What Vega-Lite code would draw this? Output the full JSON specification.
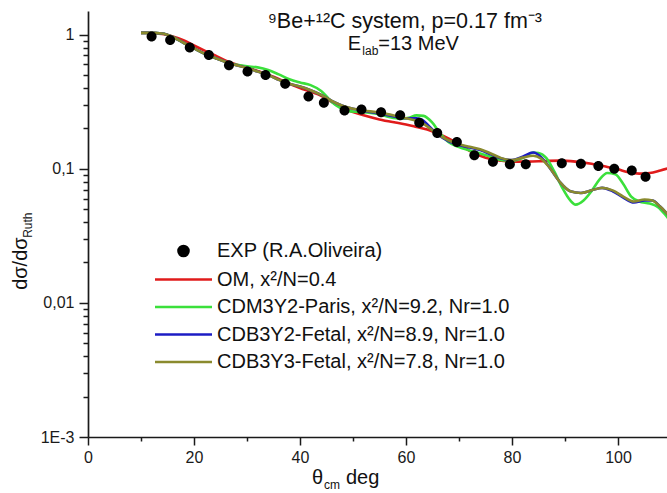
{
  "$schema": "https://vega.github.io/schema/vega-lite/v6.json",
  "width": 579,
  "height": 426,
  "autosize": "none",
  "padding": {"left": 88, "top": 11, "right": 0, "bottom": 56},
  "config": {
    "font": "Liberation Sans",
    "view": {"stroke": null},
    "text": {"font": "Liberation Sans", "color": "#111"}
  },
  "datasets": {
    "exp": [
      {"series": "EXP", "theta": 12.0, "ratio": 0.97},
      {"series": "EXP", "theta": 15.5, "ratio": 0.91},
      {"series": "EXP", "theta": 19.2, "ratio": 0.80},
      {"series": "EXP", "theta": 22.8, "ratio": 0.705},
      {"series": "EXP", "theta": 26.6, "ratio": 0.59},
      {"series": "EXP", "theta": 30.1, "ratio": 0.53},
      {"series": "EXP", "theta": 33.5, "ratio": 0.50},
      {"series": "EXP", "theta": 37.2, "ratio": 0.43},
      {"series": "EXP", "theta": 41.6, "ratio": 0.345},
      {"series": "EXP", "theta": 44.5, "ratio": 0.31},
      {"series": "EXP", "theta": 48.4, "ratio": 0.272},
      {"series": "EXP", "theta": 51.6, "ratio": 0.277},
      {"series": "EXP", "theta": 55.3, "ratio": 0.264},
      {"series": "EXP", "theta": 58.9, "ratio": 0.251},
      {"series": "EXP", "theta": 62.5, "ratio": 0.22},
      {"series": "EXP", "theta": 65.9, "ratio": 0.185},
      {"series": "EXP", "theta": 69.6, "ratio": 0.158},
      {"series": "EXP", "theta": 72.9, "ratio": 0.126},
      {"series": "EXP", "theta": 76.4, "ratio": 0.113},
      {"series": "EXP", "theta": 79.6, "ratio": 0.108},
      {"series": "EXP", "theta": 82.6, "ratio": 0.108},
      {"series": "EXP", "theta": 89.4, "ratio": 0.110},
      {"series": "EXP", "theta": 93.0, "ratio": 0.109},
      {"series": "EXP", "theta": 96.3, "ratio": 0.105},
      {"series": "EXP", "theta": 99.3, "ratio": 0.100},
      {"series": "EXP", "theta": 102.6, "ratio": 0.097},
      {"series": "EXP", "theta": 105.2, "ratio": 0.087}
    ],
    "curves": [
      {"series": "OM", "theta": 10, "ratio": 1.03},
      {"series": "OM", "theta": 12, "ratio": 1.03},
      {"series": "OM", "theta": 14, "ratio": 1.01},
      {"series": "OM", "theta": 16, "ratio": 0.97},
      {"series": "OM", "theta": 18, "ratio": 0.91},
      {"series": "OM", "theta": 20, "ratio": 0.83},
      {"series": "OM", "theta": 22, "ratio": 0.76},
      {"series": "OM", "theta": 24, "ratio": 0.70},
      {"series": "OM", "theta": 26, "ratio": 0.64},
      {"series": "OM", "theta": 28, "ratio": 0.60},
      {"series": "OM", "theta": 30, "ratio": 0.57},
      {"series": "OM", "theta": 32, "ratio": 0.535},
      {"series": "OM", "theta": 35, "ratio": 0.485},
      {"series": "OM", "theta": 38, "ratio": 0.43},
      {"series": "OM", "theta": 40, "ratio": 0.40},
      {"series": "OM", "theta": 42, "ratio": 0.375},
      {"series": "OM", "theta": 44, "ratio": 0.35},
      {"series": "OM", "theta": 46, "ratio": 0.315},
      {"series": "OM", "theta": 48, "ratio": 0.285},
      {"series": "OM", "theta": 50, "ratio": 0.265},
      {"series": "OM", "theta": 52, "ratio": 0.25},
      {"series": "OM", "theta": 55, "ratio": 0.233},
      {"series": "OM", "theta": 58, "ratio": 0.221},
      {"series": "OM", "theta": 60, "ratio": 0.214},
      {"series": "OM", "theta": 62, "ratio": 0.205},
      {"series": "OM", "theta": 64, "ratio": 0.196},
      {"series": "OM", "theta": 66, "ratio": 0.183},
      {"series": "OM", "theta": 68, "ratio": 0.168},
      {"series": "OM", "theta": 70, "ratio": 0.152},
      {"series": "OM", "theta": 72, "ratio": 0.136},
      {"series": "OM", "theta": 74, "ratio": 0.125},
      {"series": "OM", "theta": 76, "ratio": 0.118},
      {"series": "OM", "theta": 78, "ratio": 0.115},
      {"series": "OM", "theta": 80, "ratio": 0.113},
      {"series": "OM", "theta": 83, "ratio": 0.113},
      {"series": "OM", "theta": 86, "ratio": 0.114},
      {"series": "OM", "theta": 89, "ratio": 0.115},
      {"series": "OM", "theta": 92, "ratio": 0.113},
      {"series": "OM", "theta": 95, "ratio": 0.109},
      {"series": "OM", "theta": 98, "ratio": 0.103},
      {"series": "OM", "theta": 100, "ratio": 0.099},
      {"series": "OM", "theta": 102, "ratio": 0.094},
      {"series": "OM", "theta": 104, "ratio": 0.092},
      {"series": "OM", "theta": 106, "ratio": 0.093},
      {"series": "OM", "theta": 108, "ratio": 0.097},
      {"series": "OM", "theta": 110, "ratio": 0.102},

      {"series": "CDM3Y2", "theta": 10, "ratio": 1.03},
      {"series": "CDM3Y2", "theta": 12, "ratio": 1.03},
      {"series": "CDM3Y2", "theta": 14, "ratio": 1.02},
      {"series": "CDM3Y2", "theta": 16, "ratio": 0.96},
      {"series": "CDM3Y2", "theta": 18, "ratio": 0.87},
      {"series": "CDM3Y2", "theta": 20, "ratio": 0.79},
      {"series": "CDM3Y2", "theta": 22, "ratio": 0.72},
      {"series": "CDM3Y2", "theta": 24, "ratio": 0.67},
      {"series": "CDM3Y2", "theta": 26, "ratio": 0.625},
      {"series": "CDM3Y2", "theta": 28, "ratio": 0.595},
      {"series": "CDM3Y2", "theta": 30, "ratio": 0.58},
      {"series": "CDM3Y2", "theta": 32, "ratio": 0.57},
      {"series": "CDM3Y2", "theta": 34, "ratio": 0.545},
      {"series": "CDM3Y2", "theta": 36, "ratio": 0.505},
      {"series": "CDM3Y2", "theta": 38, "ratio": 0.465},
      {"series": "CDM3Y2", "theta": 40, "ratio": 0.44},
      {"series": "CDM3Y2", "theta": 42, "ratio": 0.42},
      {"series": "CDM3Y2", "theta": 44, "ratio": 0.38},
      {"series": "CDM3Y2", "theta": 46, "ratio": 0.315},
      {"series": "CDM3Y2", "theta": 47.5, "ratio": 0.285},
      {"series": "CDM3Y2", "theta": 49, "ratio": 0.27},
      {"series": "CDM3Y2", "theta": 51, "ratio": 0.265},
      {"series": "CDM3Y2", "theta": 53, "ratio": 0.262},
      {"series": "CDM3Y2", "theta": 55, "ratio": 0.255},
      {"series": "CDM3Y2", "theta": 57, "ratio": 0.242},
      {"series": "CDM3Y2", "theta": 59, "ratio": 0.236},
      {"series": "CDM3Y2", "theta": 60.5, "ratio": 0.24},
      {"series": "CDM3Y2", "theta": 62, "ratio": 0.25},
      {"series": "CDM3Y2", "theta": 63.3, "ratio": 0.248},
      {"series": "CDM3Y2", "theta": 65, "ratio": 0.22},
      {"series": "CDM3Y2", "theta": 66.7, "ratio": 0.178},
      {"series": "CDM3Y2", "theta": 68, "ratio": 0.158},
      {"series": "CDM3Y2", "theta": 70, "ratio": 0.145},
      {"series": "CDM3Y2", "theta": 72, "ratio": 0.137},
      {"series": "CDM3Y2", "theta": 74, "ratio": 0.13},
      {"series": "CDM3Y2", "theta": 76, "ratio": 0.123},
      {"series": "CDM3Y2", "theta": 78, "ratio": 0.116},
      {"series": "CDM3Y2", "theta": 80, "ratio": 0.115},
      {"series": "CDM3Y2", "theta": 82, "ratio": 0.12},
      {"series": "CDM3Y2", "theta": 84, "ratio": 0.132},
      {"series": "CDM3Y2", "theta": 85, "ratio": 0.131},
      {"series": "CDM3Y2", "theta": 86.5, "ratio": 0.12},
      {"series": "CDM3Y2", "theta": 88, "ratio": 0.095},
      {"series": "CDM3Y2", "theta": 89.5, "ratio": 0.072},
      {"series": "CDM3Y2", "theta": 91, "ratio": 0.058},
      {"series": "CDM3Y2", "theta": 92, "ratio": 0.054},
      {"series": "CDM3Y2", "theta": 93.5, "ratio": 0.058},
      {"series": "CDM3Y2", "theta": 95, "ratio": 0.068},
      {"series": "CDM3Y2", "theta": 96.5, "ratio": 0.083},
      {"series": "CDM3Y2", "theta": 98, "ratio": 0.093},
      {"series": "CDM3Y2", "theta": 99.5, "ratio": 0.091},
      {"series": "CDM3Y2", "theta": 101, "ratio": 0.077},
      {"series": "CDM3Y2", "theta": 102.5, "ratio": 0.062},
      {"series": "CDM3Y2", "theta": 104, "ratio": 0.057},
      {"series": "CDM3Y2", "theta": 106, "ratio": 0.055},
      {"series": "CDM3Y2", "theta": 107.5, "ratio": 0.052},
      {"series": "CDM3Y2", "theta": 109, "ratio": 0.045},
      {"series": "CDM3Y2", "theta": 110, "ratio": 0.04},

      {"series": "CDB3Y2", "theta": 10, "ratio": 1.03},
      {"series": "CDB3Y2", "theta": 12, "ratio": 1.03},
      {"series": "CDB3Y2", "theta": 14, "ratio": 1.02},
      {"series": "CDB3Y2", "theta": 16, "ratio": 0.96},
      {"series": "CDB3Y2", "theta": 18, "ratio": 0.87},
      {"series": "CDB3Y2", "theta": 20, "ratio": 0.79},
      {"series": "CDB3Y2", "theta": 22, "ratio": 0.72},
      {"series": "CDB3Y2", "theta": 24, "ratio": 0.67},
      {"series": "CDB3Y2", "theta": 26, "ratio": 0.625},
      {"series": "CDB3Y2", "theta": 28, "ratio": 0.59},
      {"series": "CDB3Y2", "theta": 30, "ratio": 0.565},
      {"series": "CDB3Y2", "theta": 32, "ratio": 0.53},
      {"series": "CDB3Y2", "theta": 34, "ratio": 0.50},
      {"series": "CDB3Y2", "theta": 36, "ratio": 0.46},
      {"series": "CDB3Y2", "theta": 38, "ratio": 0.43},
      {"series": "CDB3Y2", "theta": 40, "ratio": 0.41},
      {"series": "CDB3Y2", "theta": 42, "ratio": 0.385},
      {"series": "CDB3Y2", "theta": 44, "ratio": 0.355},
      {"series": "CDB3Y2", "theta": 46, "ratio": 0.32},
      {"series": "CDB3Y2", "theta": 48, "ratio": 0.295},
      {"series": "CDB3Y2", "theta": 50, "ratio": 0.28},
      {"series": "CDB3Y2", "theta": 52, "ratio": 0.27},
      {"series": "CDB3Y2", "theta": 55, "ratio": 0.258},
      {"series": "CDB3Y2", "theta": 58, "ratio": 0.244},
      {"series": "CDB3Y2", "theta": 60, "ratio": 0.238},
      {"series": "CDB3Y2", "theta": 62, "ratio": 0.238},
      {"series": "CDB3Y2", "theta": 63, "ratio": 0.232},
      {"series": "CDB3Y2", "theta": 64.5, "ratio": 0.205},
      {"series": "CDB3Y2", "theta": 66, "ratio": 0.18},
      {"series": "CDB3Y2", "theta": 68, "ratio": 0.161},
      {"series": "CDB3Y2", "theta": 70, "ratio": 0.15},
      {"series": "CDB3Y2", "theta": 72, "ratio": 0.144},
      {"series": "CDB3Y2", "theta": 74, "ratio": 0.138},
      {"series": "CDB3Y2", "theta": 76, "ratio": 0.128},
      {"series": "CDB3Y2", "theta": 78, "ratio": 0.119},
      {"series": "CDB3Y2", "theta": 80, "ratio": 0.116},
      {"series": "CDB3Y2", "theta": 82, "ratio": 0.123},
      {"series": "CDB3Y2", "theta": 84, "ratio": 0.132},
      {"series": "CDB3Y2", "theta": 85.5, "ratio": 0.122},
      {"series": "CDB3Y2", "theta": 87, "ratio": 0.103},
      {"series": "CDB3Y2", "theta": 89, "ratio": 0.08},
      {"series": "CDB3Y2", "theta": 91, "ratio": 0.068},
      {"series": "CDB3Y2", "theta": 93, "ratio": 0.066},
      {"series": "CDB3Y2", "theta": 95, "ratio": 0.069},
      {"series": "CDB3Y2", "theta": 97, "ratio": 0.072},
      {"series": "CDB3Y2", "theta": 99, "ratio": 0.068},
      {"series": "CDB3Y2", "theta": 101, "ratio": 0.061},
      {"series": "CDB3Y2", "theta": 103, "ratio": 0.056},
      {"series": "CDB3Y2", "theta": 105, "ratio": 0.058},
      {"series": "CDB3Y2", "theta": 106.5, "ratio": 0.058},
      {"series": "CDB3Y2", "theta": 108, "ratio": 0.052},
      {"series": "CDB3Y2", "theta": 110, "ratio": 0.043},

      {"series": "CDB3Y3", "theta": 10, "ratio": 1.03},
      {"series": "CDB3Y3", "theta": 12, "ratio": 1.03},
      {"series": "CDB3Y3", "theta": 14, "ratio": 1.02},
      {"series": "CDB3Y3", "theta": 16, "ratio": 0.96},
      {"series": "CDB3Y3", "theta": 18, "ratio": 0.87},
      {"series": "CDB3Y3", "theta": 20, "ratio": 0.79},
      {"series": "CDB3Y3", "theta": 22, "ratio": 0.72},
      {"series": "CDB3Y3", "theta": 24, "ratio": 0.67},
      {"series": "CDB3Y3", "theta": 26, "ratio": 0.625},
      {"series": "CDB3Y3", "theta": 28, "ratio": 0.59},
      {"series": "CDB3Y3", "theta": 30, "ratio": 0.565},
      {"series": "CDB3Y3", "theta": 32, "ratio": 0.53},
      {"series": "CDB3Y3", "theta": 34, "ratio": 0.50},
      {"series": "CDB3Y3", "theta": 36, "ratio": 0.46},
      {"series": "CDB3Y3", "theta": 38, "ratio": 0.43},
      {"series": "CDB3Y3", "theta": 40, "ratio": 0.41},
      {"series": "CDB3Y3", "theta": 42, "ratio": 0.385},
      {"series": "CDB3Y3", "theta": 44, "ratio": 0.355},
      {"series": "CDB3Y3", "theta": 46, "ratio": 0.32},
      {"series": "CDB3Y3", "theta": 48, "ratio": 0.295},
      {"series": "CDB3Y3", "theta": 50, "ratio": 0.28},
      {"series": "CDB3Y3", "theta": 52, "ratio": 0.272},
      {"series": "CDB3Y3", "theta": 55, "ratio": 0.262},
      {"series": "CDB3Y3", "theta": 58, "ratio": 0.248},
      {"series": "CDB3Y3", "theta": 60, "ratio": 0.238},
      {"series": "CDB3Y3", "theta": 62, "ratio": 0.228},
      {"series": "CDB3Y3", "theta": 63, "ratio": 0.22},
      {"series": "CDB3Y3", "theta": 64.5, "ratio": 0.2},
      {"series": "CDB3Y3", "theta": 66, "ratio": 0.18},
      {"series": "CDB3Y3", "theta": 68, "ratio": 0.163},
      {"series": "CDB3Y3", "theta": 70, "ratio": 0.152},
      {"series": "CDB3Y3", "theta": 72, "ratio": 0.146},
      {"series": "CDB3Y3", "theta": 74, "ratio": 0.14},
      {"series": "CDB3Y3", "theta": 76, "ratio": 0.13},
      {"series": "CDB3Y3", "theta": 78, "ratio": 0.12},
      {"series": "CDB3Y3", "theta": 80, "ratio": 0.116},
      {"series": "CDB3Y3", "theta": 82, "ratio": 0.121},
      {"series": "CDB3Y3", "theta": 84, "ratio": 0.125},
      {"series": "CDB3Y3", "theta": 85.5, "ratio": 0.119},
      {"series": "CDB3Y3", "theta": 87, "ratio": 0.103},
      {"series": "CDB3Y3", "theta": 89, "ratio": 0.08},
      {"series": "CDB3Y3", "theta": 91, "ratio": 0.068},
      {"series": "CDB3Y3", "theta": 93, "ratio": 0.066},
      {"series": "CDB3Y3", "theta": 95, "ratio": 0.069},
      {"series": "CDB3Y3", "theta": 97, "ratio": 0.072},
      {"series": "CDB3Y3", "theta": 99, "ratio": 0.069},
      {"series": "CDB3Y3", "theta": 101, "ratio": 0.062},
      {"series": "CDB3Y3", "theta": 103, "ratio": 0.057},
      {"series": "CDB3Y3", "theta": 105, "ratio": 0.059},
      {"series": "CDB3Y3", "theta": 106.5, "ratio": 0.058},
      {"series": "CDB3Y3", "theta": 108, "ratio": 0.052},
      {"series": "CDB3Y3", "theta": 110, "ratio": 0.043}
    ]
  },
  "layer": [
    {
      "encoding": {
        "x": {
          "field": "theta", "type": "quantitative", "title": null,
          "scale": {"domain": [0, 109.25], "nice": false, "zero": false},
          "axis": {
            "title": null, "grid": false,
            "values": [0, 10, 20, 30, 40, 50, 60, 70, 80, 90, 100],
            "labelExpr": "datum.value % 20 == 0 ? datum.label : ''",
            "tickSize": {"condition": {"test": "datum.value % 20 == 0", "value": 8}, "value": 4},
            "domainColor": "#1a1a1a", "domainWidth": 1.7,
            "tickColor": "#1a1a1a", "tickWidth": 1.5,
            "labelFontSize": 16, "labelColor": "#1a1a1a", "labelPadding": 4,
            "labelFlush": false, "labelOverlap": false, "labelFont": "Liberation Sans"
          }
        },
        "y": {
          "field": "ratio", "type": "quantitative", "title": null,
          "scale": {"type": "log", "domain": [0.001, 1.5], "nice": false},
          "axis": {
            "title": null, "grid": false,
            "values": [0.001, 0.002, 0.003, 0.004, 0.005, 0.006, 0.007, 0.008, 0.009, 0.01, 0.02, 0.03, 0.04, 0.05, 0.06, 0.07, 0.08, 0.09, 0.1, 0.2, 0.3, 0.4, 0.5, 0.6, 0.7, 0.8, 0.9, 1],
            "labelExpr": "datum.value == 1 ? '1' : datum.value == 0.1 ? '0,1' : datum.value == 0.01 ? '0,01' : datum.value == 0.001 ? '1E-3' : ''",
            "tickSize": {"condition": {"test": "datum.value == 1 || datum.value == 0.1 || datum.value == 0.01 || datum.value == 0.001", "value": 9}, "value": 5},
            "domainColor": "#1a1a1a", "domainWidth": 1.7,
            "tickColor": "#1a1a1a", "tickWidth": 1.5,
            "labelFontSize": 16, "labelColor": "#1a1a1a", "labelPadding": 5,
            "labelFlush": false, "labelOverlap": false, "labelFont": "Liberation Sans"
          }
        }
      },
      "layer": [
        {
          "data": {"name": "curves"},
          "transform": [{"filter": {"field": "series", "equal": "OM"}}],
          "mark": {"type": "line", "clip": true, "strokeWidth": 2.6, "interpolate": "monotone"},
          "encoding": {
            "color": {
              "field": "series", "type": "nominal",
              "scale": {
                "domain": ["EXP", "OM", "CDM3Y2", "CDB3Y2", "CDB3Y3"],
                "range": ["#000000", "#e01b1b", "#3be03b", "#1c1cc4", "#8a8a2e"]
              }
            }
          }
        },
        {
          "data": {"name": "curves"},
          "transform": [{"filter": {"field": "series", "equal": "CDM3Y2"}}],
          "mark": {"type": "line", "clip": true, "strokeWidth": 2.6, "interpolate": "monotone"},
          "encoding": {"color": {"field": "series", "type": "nominal"}}
        },
        {
          "data": {"name": "curves"},
          "transform": [{"filter": {"field": "series", "equal": "CDB3Y2"}}],
          "mark": {"type": "line", "clip": true, "strokeWidth": 2.6, "interpolate": "monotone"},
          "encoding": {"color": {"field": "series", "type": "nominal"}}
        },
        {
          "data": {"name": "curves"},
          "transform": [{"filter": {"field": "series", "equal": "CDB3Y3"}}],
          "mark": {"type": "line", "clip": true, "strokeWidth": 2.6, "interpolate": "monotone"},
          "encoding": {"color": {"field": "series", "type": "nominal"}}
        },
        {
          "data": {"name": "exp"},
          "mark": {"type": "point", "filled": true, "opacity": 1, "size": 100, "clip": true},
          "encoding": {
            "color": {
              "field": "series", "type": "nominal",
              "legend": {
                "orient": "none", "legendX": 85.5, "legendY": 230, "title": null,
                "symbolSize": 100, "symbolStrokeWidth": 2.6, "padding": 0,
                "rowPadding": 7.5, "labelOffset": 23.5, "labelLimit": 600,
                "labelFontSize": 20, "labelFont": "Liberation Sans", "labelColor": "#111",
                "labelExpr": "datum.label == 'EXP' ? 'EXP (R.A.Oliveira)' : datum.label == 'OM' ? 'OM, x²/N=0.4' : datum.label == 'CDM3Y2' ? 'CDM3Y2-Paris, x²/N=9.2, Nr=1.0' : datum.label == 'CDB3Y2' ? 'CDB3Y2-Fetal, x²/N=8.9, Nr=1.0' : 'CDB3Y3-Fetal, x²/N=7.8, Nr=1.0'",
                "encode": {"symbols": {"update": {"stroke": {"scale": "color", "field": "value"}, "fill": {"scale": "color", "field": "value"}, "opacity": {"value": 1}}}}
              }
            },
            "shape": {
              "field": "series", "type": "nominal",
              "scale": {
                "domain": ["EXP", "OM", "CDM3Y2", "CDB3Y2", "CDB3Y3"],
                "range": ["M-1,0A1,1,0,1,1,1,0A1,1,0,1,1,-1,0Z", "M-5.7,0H5.7", "M-5.7,0H5.7", "M-5.7,0H5.7", "M-5.7,0H5.7"]
              },
              "legend": {
                "orient": "none", "legendX": 85.5, "legendY": 230, "title": null,
                "symbolSize": 100, "symbolStrokeWidth": 2.6, "padding": 0,
                "rowPadding": 7.5, "labelOffset": 23.5, "labelLimit": 600,
                "labelFontSize": 20, "labelFont": "Liberation Sans", "labelColor": "#111",
                "labelExpr": "datum.label == 'EXP' ? 'EXP (R.A.Oliveira)' : datum.label == 'OM' ? 'OM, x²/N=0.4' : datum.label == 'CDM3Y2' ? 'CDM3Y2-Paris, x²/N=9.2, Nr=1.0' : datum.label == 'CDB3Y2' ? 'CDB3Y2-Fetal, x²/N=8.9, Nr=1.0' : 'CDB3Y3-Fetal, x²/N=7.8, Nr=1.0'",
                "encode": {"symbols": {"update": {"stroke": {"scale": "color", "field": "value"}, "fill": {"scale": "color", "field": "value"}, "opacity": {"value": 1}}}}
              }
            }
          }
        }
      ]
    },
    {
      "data": {"values": [{}]},
      "mark": {"type": "text", "text": "⁹Be+¹²C system, p=0.17 fm⁻³", "fontSize": 21.5, "align": "center", "baseline": "alphabetic", "dx": 2},
      "encoding": {"x": {"datum": 59.4, "type": "quantitative"}, "y": {"datum": 1.128, "type": "quantitative"}}
    },
    {
      "data": {"values": [{}]},
      "mark": {"type": "text", "text": "E", "fontSize": 20, "align": "left", "baseline": "alphabetic", "dx": -55},
      "encoding": {"x": {"datum": 59.4, "type": "quantitative"}, "y": {"datum": 0.773, "type": "quantitative"}}
    },
    {
      "data": {"values": [{}]},
      "mark": {"type": "text", "text": "lab", "fontSize": 12, "align": "left", "baseline": "alphabetic", "dx": -40.5, "dy": 5},
      "encoding": {"x": {"datum": 59.4, "type": "quantitative"}, "y": {"datum": 0.773, "type": "quantitative"}}
    },
    {
      "data": {"values": [{}]},
      "mark": {"type": "text", "text": "=13 MeV", "fontSize": 20, "align": "left", "baseline": "alphabetic", "dx": -24.5},
      "encoding": {"x": {"datum": 59.4, "type": "quantitative"}, "y": {"datum": 0.773, "type": "quantitative"}}
    },
    {
      "data": {"values": [{}]},
      "mark": {"type": "text", "text": "θ", "fontSize": 20, "align": "left", "baseline": "alphabetic"},
      "encoding": {"x": {"datum": 42.26, "type": "quantitative"}, "y": {"datum": 0.000446, "type": "quantitative"}}
    },
    {
      "data": {"values": [{}]},
      "mark": {"type": "text", "text": "cm", "fontSize": 12, "align": "left", "baseline": "alphabetic", "dx": 12, "dy": 5},
      "encoding": {"x": {"datum": 42.26, "type": "quantitative"}, "y": {"datum": 0.000446, "type": "quantitative"}}
    },
    {
      "data": {"values": [{}]},
      "mark": {"type": "text", "text": "deg", "fontSize": 20, "align": "left", "baseline": "alphabetic", "dx": 34},
      "encoding": {"x": {"datum": 42.26, "type": "quantitative"}, "y": {"datum": 0.000446, "type": "quantitative"}}
    },
    {
      "data": {"values": [{}]},
      "mark": {"type": "text", "text": "dσ/dσ", "fontSize": 20, "align": "left", "baseline": "alphabetic", "angle": 270},
      "encoding": {"x": {"datum": -11.5, "type": "quantitative"}, "y": {"datum": 0.0125, "type": "quantitative"}}
    },
    {
      "data": {"values": [{}]},
      "mark": {"type": "text", "text": "Ruth", "fontSize": 12, "align": "left", "baseline": "alphabetic", "angle": 270, "dx": 52, "dy": 5},
      "encoding": {"x": {"datum": -11.5, "type": "quantitative"}, "y": {"datum": 0.0125, "type": "quantitative"}}
    }
  ]
}
